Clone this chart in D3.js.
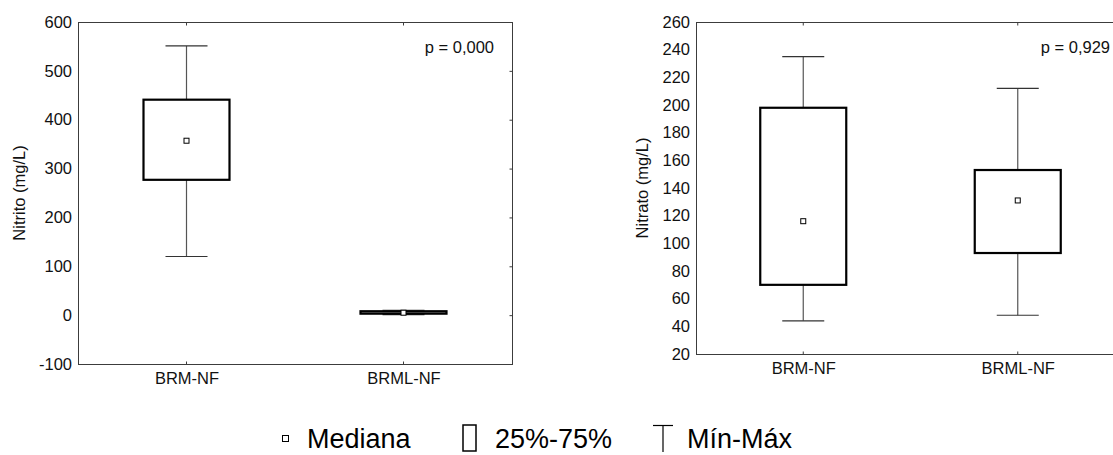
<!DOCTYPE html>
<html>
<head>
<meta charset="utf-8">
<script src="https://cdn.jsdelivr.net/npm/d3@7"></script>
<style>
  body { margin: 0; background: #fff; }
  svg { display: block; font-family: "Liberation Sans", Arial, sans-serif; }
</style>
</head>
<body>
<svg id="chart" width="1113" height="455"></svg>
<script>
// groups
const categories = ['BRM-NF', 'BRML-NF'];

// Nitrito (mg/L): min, q1, median, q3, max per group
const nitritoMin = [120, 1];
const nitritoQ1 = [277, 3];
const nitritoMedian = [357, 5];
const nitritoQ3 = [441, 8];
const nitritoMax = [551, 10];
const nitritoTicks = [-100, 0, 100, 200, 300, 400, 500, 600];

// Nitrato (mg/L)
const nitratoMin = [44, 48];
const nitratoQ1 = [70, 93];
const nitratoMedian = [116, 131];
const nitratoQ3 = [198, 153];
const nitratoMax = [235, 212];
const nitratoTicks = [20, 40, 60, 80, 100, 120, 140, 160, 180, 200, 220, 240, 260];

const legendLabels = ['Mediana', '25%-75%', 'Mín-Máx'];

const FONT = '"Liberation Sans", Arial, sans-serif';
const svg = d3.select('#chart');

function boxPanel(opts) {
  const { left, right, top, bottom, domain, ticks, title, pText,
    min, q1, med, q3, max } = opts;

  const x = d3.scalePoint().domain(categories).range([left, right]).padding(0.5);
  const y = d3.scaleLinear().domain(domain).range([bottom, top]);
  const g = svg.append('g');

  // frame
  g.append('rect')
    .attr('x', left + 0.5).attr('y', top + 0.5)
    .attr('width', right - left).attr('height', bottom - top)
    .attr('fill', 'none').attr('stroke', '#3c3c3c').attr('stroke-width', 1);

  // y labels
  const ya = g.append('g')
    .attr('transform', `translate(${left},0)`)
    .call(d3.axisLeft(y).tickValues(ticks).tickSize(0).tickPadding(6)
      .tickFormat((d) => String(d)));
  ya.select('.domain').remove();
  ya.attr('font-family', FONT);
  ya.selectAll('text').attr('font-size', 16.5).attr('fill', '#111');

  // small inward ticks on the right edge
  const yr = g.append('g')
    .attr('transform', `translate(${right + 0.5},0)`)
    .call(d3.axisRight(y).tickValues(ticks).tickSize(-3).tickFormat(''));
  yr.select('.domain').remove();
  yr.selectAll('line').attr('stroke', '#3c3c3c');

  // x labels
  const xa = g.append('g')
    .attr('transform', `translate(0,${bottom})`)
    .call(d3.axisBottom(x).tickSize(0).tickPadding(8));
  xa.select('.domain').remove();
  xa.attr('font-family', FONT);
  xa.selectAll('text').attr('font-size', 16.5).attr('fill', '#111');

  // inward category ticks top and bottom
  [[top + 0.5, 3], [bottom + 0.5, -3]].forEach(([yy, len]) => {
    g.selectAll(null).data(categories).enter().append('line')
      .attr('x1', (d) => x(d)).attr('x2', (d) => x(d))
      .attr('y1', yy).attr('y2', yy + len)
      .attr('stroke', '#3c3c3c');
  });

  // y title
  g.append('text')
    .attr('transform', `translate(${opts.titleX},${(top + bottom) / 2}) rotate(-90)`)
    .attr('text-anchor', 'middle')
    .attr('font-size', 16.5).attr('fill', '#111')
    .text(title);

  // p value
  g.append('text')
    .attr('x', opts.pX).attr('y', top + 31)
    .attr('text-anchor', 'end')
    .attr('font-size', 16.5).attr('fill', '#111')
    .text(pText);

  const boxW = 86;
  const capW = 42;
  const data = categories.map((c, i) => ({
    c, min: min[i], q1: q1[i], med: med[i], q3: q3[i], max: max[i]
  }));

  const b = g.selectAll('.box').data(data).enter().append('g').attr('class', 'box');

  // whisker stems
  b.append('line')
    .attr('x1', (d) => x(d.c)).attr('x2', (d) => x(d.c))
    .attr('y1', (d) => y(d.max)).attr('y2', (d) => y(d.q3))
    .attr('stroke', '#555').attr('stroke-width', 1.2);
  b.append('line')
    .attr('x1', (d) => x(d.c)).attr('x2', (d) => x(d.c))
    .attr('y1', (d) => y(d.q1)).attr('y2', (d) => y(d.min))
    .attr('stroke', '#555').attr('stroke-width', 1.2);
  // caps
  ['max', 'min'].forEach((k) => {
    b.append('line')
      .attr('x1', (d) => x(d.c) - capW / 2).attr('x2', (d) => x(d.c) + capW / 2)
      .attr('y1', (d) => y(d[k])).attr('y2', (d) => y(d[k]))
      .attr('stroke', '#333').attr('stroke-width', 1.2);
  });
  // box
  b.append('rect')
    .attr('x', (d) => x(d.c) - boxW / 2)
    .attr('y', (d) => y(d.q3))
    .attr('width', boxW)
    .attr('height', (d) => y(d.q1) - y(d.q3))
    .attr('fill', 'none').attr('stroke', '#000').attr('stroke-width', 2.2);
  // median marker
  b.append('rect')
    .attr('x', (d) => x(d.c) - 2.5)
    .attr('y', (d) => y(d.med) - 2.5)
    .attr('width', 5).attr('height', 5)
    .attr('fill', '#fff').attr('stroke', '#000').attr('stroke-width', 1);
}

boxPanel({
  left: 78, right: 512, top: 22, bottom: 364,
  domain: [-100, 600], ticks: nitritoTicks,
  title: 'Nitrito (mg/L)', titleX: 25, pText: 'p = 0,000', pX: 494,
  min: nitritoMin, q1: nitritoQ1, med: nitritoMedian, q3: nitritoQ3, max: nitritoMax
});

boxPanel({
  left: 696, right: 1125, top: 22, bottom: 354,
  domain: [20, 260], ticks: nitratoTicks,
  title: 'Nitrato (mg/L)', titleX: 648, pText: 'p = 0,929', pX: 1110,
  min: nitratoMin, q1: nitratoQ1, med: nitratoMedian, q3: nitratoQ3, max: nitratoMax
});

// legend
const leg = svg.append('g');
leg.append('rect')
  .attr('x', 282.5).attr('y', 435.5).attr('width', 6).attr('height', 6)
  .attr('fill', '#fff').attr('stroke', '#000').attr('stroke-width', 1);
leg.append('rect')
  .attr('x', 463).attr('y', 425).attr('width', 13).attr('height', 26)
  .attr('fill', 'none').attr('stroke', '#000').attr('stroke-width', 1.5);
leg.append('line')
  .attr('x1', 653).attr('x2', 673).attr('y1', 425.5).attr('y2', 425.5)
  .attr('stroke', '#000').attr('stroke-width', 1.2);
leg.append('line')
  .attr('x1', 663).attr('x2', 663).attr('y1', 425.5).attr('y2', 452)
  .attr('stroke', '#000').attr('stroke-width', 1.2);

leg.selectAll('text.lab').data(legendLabels).enter().append('text')
  .attr('class', 'lab')
  .attr('x', (d, i) => [307, 495, 687][i])
  .attr('y', 448)
  .attr('font-size', 27).attr('fill', '#000')
  .text((d) => d);
</script>
</body>
</html>
